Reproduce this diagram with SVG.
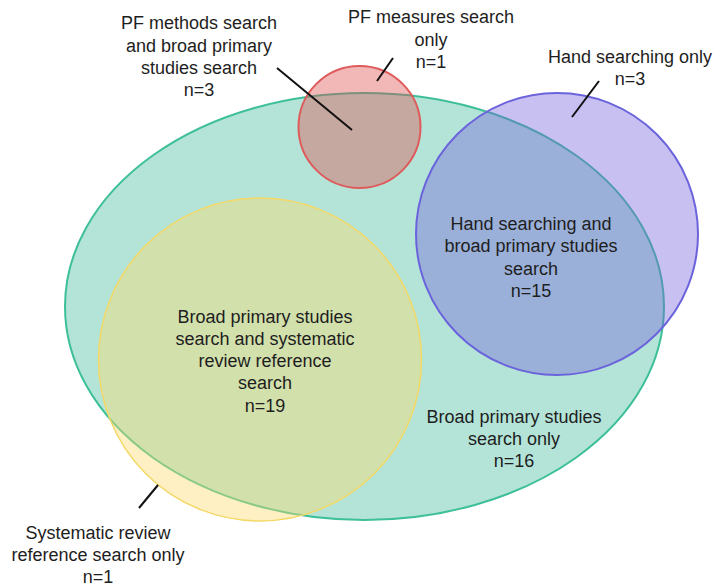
<svg xmlns="http://www.w3.org/2000/svg" width="717" height="586" viewBox="0 0 717 586">
<style>
.lbl{font-family:"Liberation Sans",Arial,sans-serif;font-size:18px;fill:#1e1e1e;text-anchor:middle}
.set{stroke-width:2}
.lead{stroke:#111;stroke-width:2;fill:none}
</style>
<rect width="717" height="586" fill="#ffffff"/>
<g id="broad">
<ellipse class="set" cx="364.5" cy="306.5" rx="299.5" ry="213.5" fill="rgb(67,187,157)" fill-opacity="0.4" stroke="#3dbf98"/>
</g>
<g id="systematic">
<circle cx="260" cy="359.5" r="161.5" fill="rgb(255,218,107)" fill-opacity="0.4" stroke="#f4d866" stroke-width="1.5"/>
</g>
<g id="pfmeasures">
<circle class="set" cx="359.5" cy="127" r="61" fill="rgb(222,77,77)" fill-opacity="0.4" stroke="#df5b5b"/>
</g>
<g id="hand">
<circle class="set" cx="557" cy="234" r="141" fill="rgb(117,97,217)" fill-opacity="0.4" stroke="#6b63dc"/>
</g>
<g id="labels">
<g id="lbl-pfmethods"><text class="lbl" x="199" y="29">PF methods search</text><text class="lbl" x="199" y="51.5">and broad primary</text><text class="lbl" x="199" y="74">studies search</text><text class="lbl" x="199" y="96">n=3</text></g>
<g id="lbl-pfmeasures"><text class="lbl" x="431" y="23">PF measures search</text><text class="lbl" x="431" y="46">only</text><text class="lbl" x="431" y="68">n=1</text></g>
<g id="lbl-handonly"><text class="lbl" x="630" y="63">Hand searching only</text><text class="lbl" x="630" y="85">n=3</text></g>
<g id="lbl-handbroad"><text class="lbl" x="531" y="230">Hand searching and</text><text class="lbl" x="531" y="252">broad primary studies</text><text class="lbl" x="531" y="275">search</text><text class="lbl" x="531" y="297">n=15</text></g>
<g id="lbl-broadsys"><text class="lbl" x="265" y="323">Broad primary studies</text><text class="lbl" x="265" y="345">search and systematic</text><text class="lbl" x="265" y="367">review reference</text><text class="lbl" x="265" y="389">search</text><text class="lbl" x="265" y="412">n=19</text></g>
<g id="lbl-broadonly"><text class="lbl" x="514" y="423">Broad primary studies</text><text class="lbl" x="514" y="445">search only</text><text class="lbl" x="514" y="467">n=16</text></g>
<g id="lbl-sysonly"><text class="lbl" x="98" y="539">Systematic review</text><text class="lbl" x="98" y="561">reference search only</text><text class="lbl" x="98" y="583">n=1</text></g>
</g>
<g id="connectors">
<line class="lead" x1="277" y1="68" x2="352" y2="130"/>
<line class="lead" x1="393" y1="58" x2="377" y2="81"/>
<line class="lead" x1="599" y1="81" x2="572" y2="117"/>
<line class="lead" x1="158" y1="485" x2="139" y2="508"/>
</g>
</svg>
